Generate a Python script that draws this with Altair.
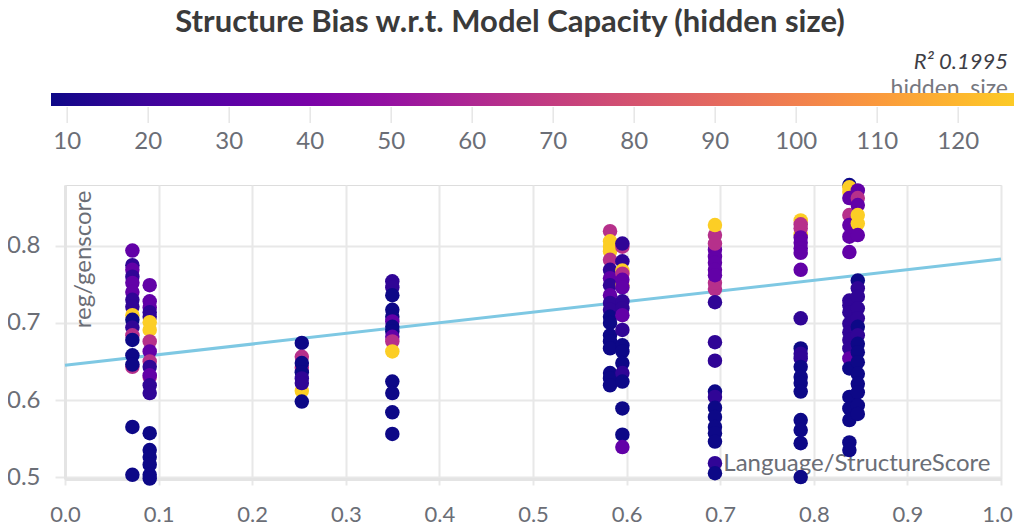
import altair as alt
import pandas as pd

# ---------------- data ----------------
col_x = [0.072, 0.0905, 0.253, 0.3497, 0.5823, 0.5955, 0.6944, 0.786, 0.838, 0.847]

c1_y = [0.794, 0.775, 0.769, 0.760, 0.752, 0.740, 0.730, 0.721, 0.710, 0.704, 0.694, 0.684, 0.678, 0.658, 0.643, 0.646, 0.565, 0.503]
c1_h = [32, 16, 32, 16, 32, 32, 16, 16, 128, 8, 16, 64, 8, 8, 64, 8, 8, 8]

c2_y = [0.749, 0.728, 0.720, 0.714, 0.708, 0.701, 0.691, 0.676, 0.663, 0.650, 0.643, 0.630, 0.632, 0.619, 0.609, 0.557, 0.535, 0.526, 0.516, 0.503, 0.498]
c2_h = [32, 32, 32, 16, 16, 128, 128, 64, 32, 64, 16, 64, 32, 16, 16, 8, 8, 8, 8, 8, 8]

c3_y = [0.674, 0.656, 0.642, 0.648, 0.636, 0.628, 0.612, 0.622, 0.598]
c3_h = [8, 64, 64, 8, 8, 16, 128, 16, 8]

c4_y = [0.754, 0.746, 0.736, 0.717, 0.708, 0.702, 0.695, 0.689, 0.682, 0.676, 0.663, 0.624, 0.609, 0.584, 0.556]
c4_h = [16, 16, 8, 8, 8, 32, 8, 8, 32, 64, 128, 8, 8, 8, 8]

c5_y = [0.819, 0.806, 0.799, 0.793, 0.782, 0.769, 0.758, 0.749, 0.736, 0.726, 0.717, 0.708, 0.700, 0.684, 0.676, 0.667, 0.635, 0.628, 0.619]
c5_h = [64, 128, 128, 128, 64, 16, 32, 16, 32, 16, 16, 8, 8, 8, 8, 8, 8, 8, 8]

c6_y = [0.799, 0.803, 0.780, 0.768, 0.764, 0.749, 0.756, 0.746, 0.728, 0.719, 0.710, 0.691, 0.671, 0.663, 0.648, 0.635, 0.624, 0.589, 0.555, 0.539]
c6_h = [64, 16, 16, 128, 64, 128, 32, 32, 16, 16, 32, 16, 8, 8, 8, 16, 8, 8, 8, 32]

c7_y = [0.744, 0.752, 0.795, 0.786, 0.778, 0.769, 0.762, 0.814, 0.803, 0.827, 0.727, 0.675, 0.651, 0.611, 0.604, 0.590, 0.578, 0.565, 0.557, 0.546, 0.518, 0.505]
c7_h = [64, 64, 32, 32, 32, 32, 32, 64, 64, 128, 16, 16, 16, 8, 16, 8, 8, 8, 8, 8, 16, 8]

c8_y = [0.833, 0.828, 0.815, 0.823, 0.811, 0.804, 0.797, 0.791, 0.769, 0.706, 0.667, 0.660, 0.654, 0.643, 0.630, 0.622, 0.611, 0.574, 0.561, 0.544, 0.500]
c8_h = [128, 64, 128, 64, 32, 32, 32, 32, 32, 16, 8, 16, 16, 8, 8, 8, 8, 8, 8, 8, 8]

c9_y = [0.879, 0.876, 0.870, 0.862, 0.840, 0.827, 0.812, 0.792, 0.729, 0.723, 0.714, 0.699, 0.688, 0.678, 0.667, 0.654, 0.641, 0.604, 0.589, 0.574, 0.545, 0.535]
c9_h = [8, 128, 128, 32, 64, 32, 32, 32, 16, 16, 16, 16, 16, 16, 16, 32, 8, 8, 8, 8, 8, 8]

c10_y = [0.872, 0.862, 0.853, 0.840, 0.829, 0.814, 0.755, 0.745, 0.734, 0.719, 0.706, 0.695, 0.684, 0.673, 0.662, 0.649, 0.634, 0.621, 0.610, 0.593, 0.582]
c10_h = [32, 64, 32, 128, 128, 32, 8, 16, 16, 16, 16, 8, 16, 8, 8, 8, 8, 8, 8, 8, 8]

cols_y = [c1_y, c2_y, c3_y, c4_y, c5_y, c6_y, c7_y, c8_y, c9_y, c10_y]
cols_h = [c1_h, c2_h, c3_h, c4_h, c5_h, c6_h, c7_h, c8_h, c9_h, c10_h]

reg_x = [0.0, 1.0]
reg_y = [0.645, 0.783]

x_ticks = [0.0, 0.1, 0.2, 0.3, 0.4, 0.5, 0.6, 0.7, 0.8, 0.9, 1.0]
y_ticks = [0.5, 0.6, 0.7, 0.8]
legend_values = [10, 20, 30, 40, 50, 60, 70, 80, 90, 100, 110, 120]

title_text = "Structure Bias w.r.t. Model Capacity (hidden size)"
r2_text = "R\u00b2 0.1995"
legend_title = "hidden_size"
x_title = "Language/StructureScore"
y_title = "reg/genscore"

# ---------------- tables ----------------
rows = []
for cx, ys, hs in zip(col_x, cols_y, cols_h):
    for yv, h in zip(ys, hs):
        rows.append({"score": cx, "gen": yv, "hidden_size": h})
pts = pd.DataFrame(rows)
reg = pd.DataFrame({"score": reg_x, "gen": reg_y})
ticks_df = pd.DataFrame({"v": legend_values})

FONT = "Lato"
LABEL = "#6b6e76"
GRID = "#e8e8e8"

xscale = alt.Scale(domain=[0, 1], nice=False, zero=False)
yscale = alt.Scale(domain=[0.4975, 0.879], nice=False, zero=False)

x_axis = alt.Axis(
    values=x_ticks, format=".1f", labelFlush=False,
    labelFont=FONT, labelFontSize=22, labelColor=LABEL,
    labelBaseline="middle", labelPadding=29,
    labelOffset={"condition": {"test": "datum.value >= 1", "value": -4}, "value": 0},
    domainColor="#e4e4e4", domainWidth=3,
    grid=True, gridColor=GRID, gridWidth=2,
    tickColor=GRID, tickSize=6, tickWidth=2,
    title=x_title, titleFont=FONT, titleFontSize=24, titleFontWeight="normal",
    titleColor=LABEL, titleAlign="right", titleBaseline="alphabetic",
    titleX=925, titleY=-9, titleAngle=0,
)
y_axis = alt.Axis(
    values=y_ticks, format=".1f",
    labelFont=FONT, labelFontSize=24, labelColor=LABEL, labelPadding=15,
    domainColor="#e4e4e4", domainWidth=3,
    grid=True, gridColor=GRID, gridWidth=2,
    tickColor=GRID, tickSize=10, tickWidth=2,
    title=y_title, titleFont=FONT, titleFontSize=24, titleFontWeight="normal",
    titleColor=LABEL, titleAlign="right", titleBaseline="alphabetic",
    titleX=25, titleY=5, titleAngle=270,
)

line = alt.Chart(reg).mark_line(color="#7ec8e3", strokeWidth=3).encode(
    x=alt.X("score:Q", scale=xscale, axis=x_axis),
    y=alt.Y("gen:Q", scale=yscale, axis=y_axis),
)

points = alt.Chart(pts).mark_circle(size=210, opacity=1).encode(
    x=alt.X("score:Q", scale=xscale),
    y=alt.Y("gen:Q", scale=yscale),
    color=alt.Color(
        "hidden_size:Q", title=None,
        scale=alt.Scale(domain=[8, 128], nice=False, zero=False,
                        scheme=alt.SchemeParams(name="plasma", extent=[0, 0.9])),
        legend=alt.Legend(
            orient="none", direction="horizontal", legendX=-14, legendY=-92,
            gradientLength=972, gradientThickness=13, gradientStrokeWidth=0,
            values=legend_values, labelFont=FONT, labelFontSize=24,
            labelColor=LABEL, labelOffset=24, labelOverlap=False, padding=0,
        ),
    ),
)

def label(txt, x, y, size, color, weight="normal", style="normal", align="center"):
    return alt.Chart(pd.DataFrame({"t": [txt]})).mark_text(
        font=FONT, fontSize=size, fontWeight=weight, fontStyle=style,
        color=color, align=align, baseline="middle",
    ).encode(text="t:N", x=alt.value(x), y=alt.value(y))

title_mark = label(title_text, 445, -162, 31, "#3a3a3a", weight="bold")
r2_mark = label(r2_text, 943, -123, 22, "#3e3e46", style="italic", align="right")
lt_mark = label(legend_title, 943, -96, 23, "#77787f", align="right")

main = alt.layer(lt_mark, line, points, title_mark, r2_mark)

legend_ticks = alt.Chart(ticks_df).mark_rule(color="#e6e6e6", strokeWidth=1.5).encode(
    x=alt.X("v:Q", scale=alt.Scale(domain=[8, 128], range=[-14, 958]), axis=None),
    y=alt.value(-78),
    y2=alt.value(-62),
)

chart = alt.layer(main, legend_ticks).resolve_scale(x="independent").properties(
    width=936, height=294,
    autosize=alt.AutoSizeParams(type="none"),
    padding={"left": 57, "top": 177, "right": 13, "bottom": 47},
).configure_view(strokeWidth=0).configure(background="white")

chart.save("out.html", embed_options={"renderer": "svg", "actions": False})
